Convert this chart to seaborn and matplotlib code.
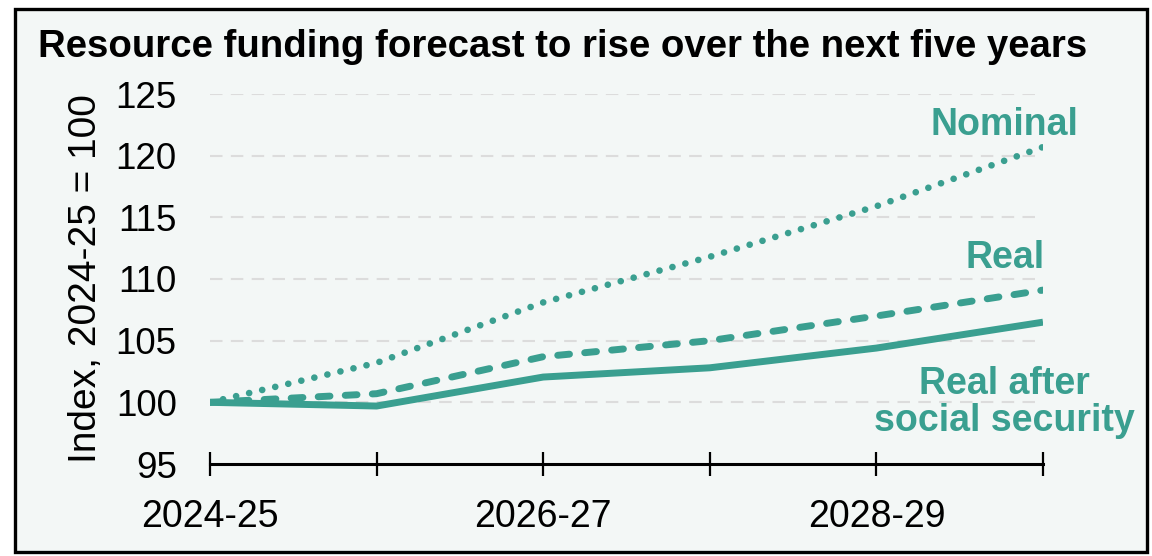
import matplotlib
matplotlib.use("Agg")
import matplotlib.pyplot as plt
from matplotlib.patches import Rectangle
import numpy as np
import pandas as pd
import seaborn as sns

# --- data ---
YEARS = ["2024-25", "2025-26", "2026-27", "2027-28", "2028-29", "2029-30"]
NOMINAL = [100.0, 103.2, 108.1, 111.8, 115.9, 120.7]
REAL = [100.0, 100.7, 103.7, 105.0, 107.0, 109.1]
REAL_AFTER_SS = [100.0, 99.7, 102.05, 102.8, 104.4, 106.5]

TEAL = "#3a9f90"
BG = "#f3f7f6"

sns.set_style("white")
plt.rcParams["font.family"] = ["Liberation Sans", "DejaVu Sans"]
plt.rcParams["text.color"] = "black"
plt.rcParams["axes.labelcolor"] = "black"

df = pd.DataFrame(
    {
        "x": np.arange(len(YEARS)),
        "Nominal": NOMINAL,
        "Real": REAL,
        "Real after social security": REAL_AFTER_SS,
    }
)

fig = plt.figure(figsize=(11.52, 5.56), dpi=100, facecolor="white")
# framed panel behind everything
fig.patches.append(
    Rectangle(
        (15 / 1152, 1 - 552 / 556),
        (1147 - 15) / 1152,
        (552 - 9) / 556,
        transform=fig.transFigure,
        facecolor=BG,
        edgecolor="black",
        linewidth=2.4,
        zorder=-10,
    )
)

ax = fig.add_axes([210 / 1152, 1 - 464 / 556, (1043 - 210) / 1152, (464 - 94) / 556])
ax.set_facecolor("none")
ax.set_zorder(1)

# lines
sns.lineplot(data=df, x="x", y="Nominal", ax=ax, color=TEAL, linewidth=4.8,
             linestyle=(0, (0.01, 2.0)), dash_capstyle="round", zorder=3)
sns.lineplot(data=df, x="x", y="Real", ax=ax, color=TEAL, linewidth=5.0,
             linestyle=(0, (1.7, 2.2)), dash_capstyle="round", zorder=3)
sns.lineplot(data=df, x="x", y="Real after social security", ax=ax, color=TEAL,
             linewidth=5.0, solid_capstyle="butt", solid_joinstyle="round", zorder=3)

ax.set_xlim(0, len(YEARS) - 1)
ax.set_ylim(95, 125)
ax.set_yticks(range(95, 126, 5))
ax.set_xticks(df["x"])
ax.set_xticklabels([y if i % 2 == 0 else "" for i, y in enumerate(YEARS)])

# gridlines (skip the 95 baseline)
for v in range(100, 126, 5):
    ax.axhline(v, color="#dcdcdc", linewidth=1.5, linestyle=(0, (6, 4)), zorder=1)

sns.despine(ax=ax, left=True, top=True, right=True)
ax.spines["bottom"].set_linewidth(2.2)
ax.spines["bottom"].set_color("black")
ax.tick_params(axis="x", bottom=True, direction="inout", length=17, width=1.6, pad=17,
               labelsize=27, colors="black")
ax.tick_params(axis="y", left=False, length=0, pad=24, labelsize=26.5, colors="black")

ax.set_xlabel("")
ax.set_ylabel("Index, 2024-25 = 100", fontsize=28, labelpad=8)

# series labels
lab = dict(color=TEAL, fontsize=27, fontweight="bold", ha="center", va="center",
           linespacing=1.05, clip_on=False)
ax.text(4.77, 122.5, "Nominal", **lab)
ax.text(4.77, 111.7, "Real", **lab)
ax.text(4.77, 100.0, "Real after\nsocial security", **lab)

fig.text(38 / 1152, 1 - 57 / 556, "Resource funding forecast to rise over the next five years",
         fontsize=27.6, fontweight="bold", ha="left", va="baseline")

fig.savefig("out.png", dpi=100, facecolor="white")
